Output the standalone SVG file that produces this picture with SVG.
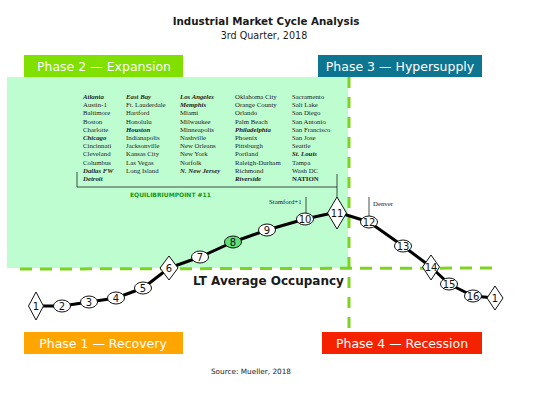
<svg xmlns="http://www.w3.org/2000/svg" width="549" height="395" viewBox="0 0 549 395">
<style>
.t{font-family:"DejaVu Sans",Verdana,sans-serif;fill:#1a1a1a}
.ph{font-family:"DejaVu Sans",Verdana,sans-serif;fill:#fff;font-size:12.5px;text-anchor:middle}
.c{font-family:"Liberation Serif","Times New Roman",serif;font-size:6.8px;fill:#222}
.b{font-weight:bold;font-style:italic}
.n{fill:#fff;stroke:#111;stroke-width:1}
.nl{font-family:"DejaVu Sans",Verdana,sans-serif;font-size:10px;text-anchor:middle;fill:#111}
.dash{stroke:#7ed321;stroke-width:3;fill:none}
.thin{stroke:#222;stroke-width:0.8;fill:none}
</style>
<rect width="549" height="395" fill="#fff"/>
<text class="t" x="266" y="25" font-size="10.3" font-weight="bold" text-anchor="middle">Industrial Market Cycle Analysis</text>
<text class="t" x="264" y="39" font-size="9.6" text-anchor="middle">3rd Quarter, 2018</text>

<rect id="expansion-area" x="7" y="77" width="341" height="191" fill="#bdfdd0"/>

<g id="phase2"><rect x="24" y="55" width="159" height="22" fill="#80e000"/><text class="ph" x="104" y="71">Phase 2 — Expansion</text></g>
<g id="phase3"><rect x="318" y="55" width="164" height="22" fill="#0e7590"/><text class="ph" x="400" y="71">Phase 3 — Hypersupply</text></g>
<g id="phase1"><rect x="24" y="332" width="159" height="22" fill="#ffa500"/><text class="ph" x="103" y="348">Phase 1 — Recovery</text></g>
<g id="phase4"><rect x="322" y="332" width="160" height="22" fill="#f52200"/><text class="ph" x="402" y="348">Phase 4 — Recession</text></g>

<g id="guides">
<line class="dash" x1="20" y1="269" x2="500" y2="268" stroke-dasharray="12 8"/>
<line class="dash" x1="349" y1="77" x2="349" y2="332" stroke-dasharray="11 9"/>
</g>

<text class="t" x="193" y="285" font-size="12" font-weight="bold">LT Average  Occupancy</text>

<g id="cities">
<text class="c" x="83" y="99"><tspan class="b">Atlanta</tspan><tspan x="83" dy="8.2">Austin-1</tspan><tspan x="83" dy="8.2">Baltimore</tspan><tspan x="83" dy="8.2">Boston</tspan><tspan x="83" dy="8.2">Charlotte</tspan><tspan x="83" dy="8.2" class="b">Chicago</tspan><tspan x="83" dy="8.2">Cincinnati</tspan><tspan x="83" dy="8.2">Cleveland</tspan><tspan x="83" dy="8.2">Columbus</tspan><tspan x="83" dy="8.2" class="b">Dallas FW</tspan><tspan x="83" dy="8.2" class="b">Detroit</tspan></text>
<text class="c" x="126" y="99"><tspan class="b">East Bay</tspan><tspan x="126" dy="8.2">Ft. Lauderdale</tspan><tspan x="126" dy="8.2">Hartford</tspan><tspan x="126" dy="8.2">Honolulu</tspan><tspan x="126" dy="8.2" class="b">Houston</tspan><tspan x="126" dy="8.2">Indianapolis</tspan><tspan x="126" dy="8.2">Jacksonville</tspan><tspan x="126" dy="8.2">Kansas City</tspan><tspan x="126" dy="8.2">Las Vegas</tspan><tspan x="126" dy="8.2">Long Island</tspan></text>
<text class="c" x="180" y="99"><tspan class="b">Los Angeles</tspan><tspan x="180" dy="8.2" class="b">Memphis</tspan><tspan x="180" dy="8.2">Miami</tspan><tspan x="180" dy="8.2">Milwaukee</tspan><tspan x="180" dy="8.2">Minneapolis</tspan><tspan x="180" dy="8.2">Nashville</tspan><tspan x="180" dy="8.2">New Orleans</tspan><tspan x="180" dy="8.2">New York</tspan><tspan x="180" dy="8.2">Norfolk</tspan><tspan x="180" dy="8.2" class="b">N. New Jersey</tspan></text>
<text class="c" x="235" y="99"><tspan>Oklahoma City</tspan><tspan x="235" dy="8.2">Orange County</tspan><tspan x="235" dy="8.2">Orlando</tspan><tspan x="235" dy="8.2">Palm Beach</tspan><tspan x="235" dy="8.2" class="b">Philadelphia</tspan><tspan x="235" dy="8.2">Phoenix</tspan><tspan x="235" dy="8.2">Pittsburgh</tspan><tspan x="235" dy="8.2">Portland</tspan><tspan x="235" dy="8.2">Raleigh-Durham</tspan><tspan x="235" dy="8.2">Richmond</tspan><tspan x="235" dy="8.2" class="b">Riverside</tspan></text>
<text class="c" x="292" y="99"><tspan>Sacramento</tspan><tspan x="292" dy="8.2">Salt Lake</tspan><tspan x="292" dy="8.2">San Diego</tspan><tspan x="292" dy="8.2">San Antonio</tspan><tspan x="292" dy="8.2">San Francisco</tspan><tspan x="292" dy="8.2">San Jose</tspan><tspan x="292" dy="8.2">Seattle</tspan><tspan x="292" dy="8.2" class="b">St. Louis</tspan><tspan x="292" dy="8.2">Tampa</tspan><tspan x="292" dy="8.2">Wash DC</tspan><tspan x="292" dy="8.2" font-weight="bold">NATION</tspan></text>
</g>

<g id="bracket">
<polyline class="thin" points="77,172 77,187 337,187 337,174"/>
<line class="thin" x1="337" y1="187" x2="337" y2="197"/>
</g>
<text x="130" y="197" font-family="DejaVu Sans,Verdana,sans-serif" font-size="6" font-weight="bold" fill="#109a10">EQUILIBRIUMPOINT #11</text>

<g id="connectors">
<polyline points="36,306 62,306 89,302 116,298 143,288 169,268 200,257 233,242 267,230 305,219 337,212 369,222 403,246 431,267 449,284 473,296 495,298" fill="none" stroke="#000" stroke-width="3" stroke-linejoin="round"/>
<line class="thin" x1="306" y1="197" x2="306" y2="213"/>
<line class="thin" x1="369" y1="197" x2="369" y2="216"/>
</g>
<text class="c" x="269" y="204">Stamford+1</text>
<text class="c" x="373" y="206">Denver</text>

<g id="n1a"><polygon class="n" points="36,292 43.5,306 36,320 28.5,306"/><text class="nl" x="36" y="310">1</text></g>
<g id="n2"><ellipse class="n" cx="62" cy="306" rx="8.5" ry="6"/><text class="nl" x="62" y="310">2</text></g>
<g id="n3"><ellipse class="n" cx="89" cy="302" rx="8.5" ry="6"/><text class="nl" x="89" y="306">3</text></g>
<g id="n4"><ellipse class="n" cx="116" cy="298" rx="8.5" ry="6"/><text class="nl" x="116" y="302">4</text></g>
<g id="n5"><ellipse class="n" cx="143" cy="288" rx="8.5" ry="6"/><text class="nl" x="143" y="292">5</text></g>
<g id="n6"><polygon class="n" points="169,256 178,268 169,280 160,268"/><text class="nl" x="169" y="272">6</text></g>
<g id="n7"><ellipse class="n" cx="200" cy="257" rx="8.5" ry="6"/><text class="nl" x="200" y="261">7</text></g>
<g id="n8"><ellipse class="n" cx="233" cy="242" rx="8.5" ry="6" style="fill:#5ee07a"/><text class="nl" x="233" y="246">8</text></g>
<g id="n9"><ellipse class="n" cx="267" cy="230" rx="8.5" ry="6"/><text class="nl" x="267" y="234">9</text></g>
<g id="n10"><ellipse class="n" cx="305" cy="219" rx="8.5" ry="6"/><text class="nl" x="305" y="223">10</text></g>
<g id="n11"><polygon class="n" points="337,197 346.5,213 337,229 327.5,213"/><text class="nl" x="337" y="217">11</text></g>
<g id="n12"><ellipse class="n" cx="369" cy="222" rx="8.5" ry="6"/><text class="nl" x="369" y="226">12</text></g>
<g id="n13"><ellipse class="n" cx="403" cy="246" rx="8.5" ry="6"/><text class="nl" x="403" y="250">13</text></g>
<g id="n14"><polygon class="n" points="431,255 439.5,267 431,280 422.5,267"/><text class="nl" x="431" y="271">14</text></g>
<g id="n15"><ellipse class="n" cx="449" cy="284" rx="8.5" ry="6"/><text class="nl" x="449" y="288">15</text></g>
<g id="n16"><ellipse class="n" cx="473" cy="296" rx="8.5" ry="6"/><text class="nl" x="473" y="300">16</text></g>
<g id="n1b"><polygon class="n" points="495,286 503,298 495,310 487,298"/><text class="nl" x="495" y="302">1</text></g>

<text class="t" x="251" y="374" font-size="7.3" text-anchor="middle">Source: Mueller, 2018</text>
</svg>
